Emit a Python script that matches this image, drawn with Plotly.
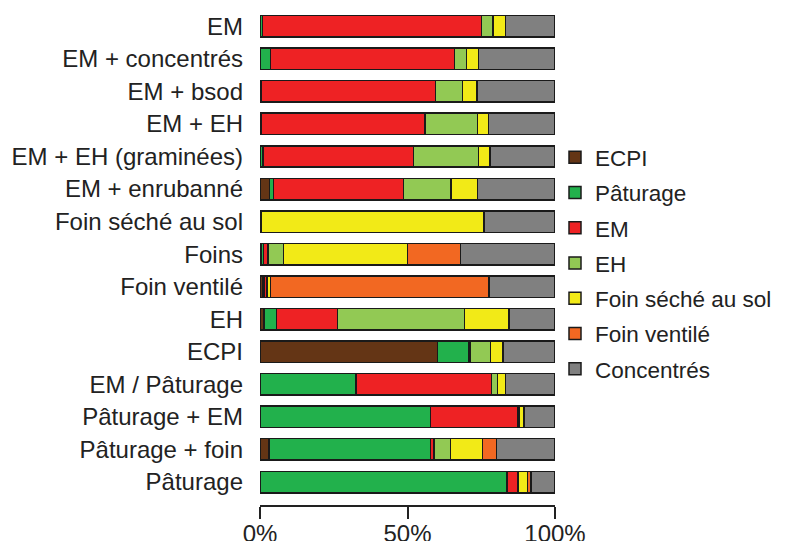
import plotly.graph_objects as go

categories = ["EM", "EM + concentrés", "EM + bsod", "EM + EH", "EM + EH (graminées)",
              "EM + enrubanné", "Foin séché au sol", "Foins", "Foin ventilé", "EH",
              "ECPI", "EM / Pâturage", "Pâturage + EM", "Pâturage + foin", "Pâturage"]

ecpi       = [0, 0, 0, 0, 0, 3.2, 0, 0.3, 0.8, 1.4, 60.2, 0, 0, 3.0, 0]
paturage   = [0.8, 3.5, 0.5, 0.5, 1.0, 1.4, 0, 0.8, 0.5, 4.2, 10.4, 32.6, 57.8, 54.8, 83.7]
em         = [74.3, 62.4, 59.0, 55.4, 51.1, 44.1, 0.3, 1.6, 1.0, 20.7, 0.5, 45.9, 29.5, 1.2, 3.6]
eh         = [3.9, 4.1, 9.2, 17.8, 22.0, 16.0, 0, 5.3, 0.3, 43.1, 7.1, 2.0, 0.5, 5.6, 0.3]
foin_sol   = [4.3, 4.0, 4.8, 3.8, 3.9, 9.1, 75.7, 42.0, 1.0, 15.0, 4.2, 2.8, 1.7, 10.8, 3.1]
foin_vent  = [0, 0, 0, 0, 0, 0, 0, 18.0, 74.1, 0, 0, 0, 0, 4.8, 1.1]
concentres = [16.7, 26.0, 26.5, 22.5, 22.0, 26.2, 24.0, 32.0, 22.3, 15.6, 17.6, 16.7, 10.5, 19.8, 8.2]

series_names = ["ECPI", "Pâturage", "EM", "EH", "Foin séché au sol", "Foin ventilé", "Concentrés"]
series_values = [ecpi, paturage, em, eh, foin_sol, foin_vent, concentres]
colors = ["#643515", "#22b14c", "#ee2224", "#92c954", "#f2ea17", "#f26822", "#808080"]

fig = go.Figure()
for name, vals, col in zip(series_names, series_values, colors):
    fig.add_trace(go.Bar(
        name=name, y=categories, x=[v if v > 0 else None for v in vals],
        orientation="h", width=0.66,
        marker=dict(color=col, line=dict(color="#1a1a1a", width=1.5)),
        legendgroup=name,
    ))

fig.update_layout(
    width=785, height=541,
    margin=dict(l=252, r=238, t=2, b=44, autoexpand=False),
    barmode="stack",
    plot_bgcolor="white", paper_bgcolor="white",
    font=dict(family="Liberation Sans, Arial, sans-serif", size=24, color="#222222"),
    showlegend=True,
    legend=dict(x=1.0, xanchor="left", y=0.745, yanchor="top",
                traceorder="grouped", tracegroupgap=3,
                font=dict(size=22.5, color="#222222"), itemwidth=30),
    xaxis=dict(range=[0, 100], tickvals=[0, 50, 100], ticktext=["0%", "50%", "100%"],
               showgrid=False, zeroline=False, showline=True, linecolor="#222222",
               linewidth=2, ticks="outside", ticklen=12, tickwidth=2,
               tickcolor="#222222", tickfont=dict(size=24), automargin=False,
               ticklabelstandoff=-6),
    yaxis=dict(range=[14.706, -0.5], showgrid=False, zeroline=False, showline=False,
               ticks="", ticklabelstandoff=16, tickfont=dict(size=24), automargin=False),
)

fig.write_html("out.html")
